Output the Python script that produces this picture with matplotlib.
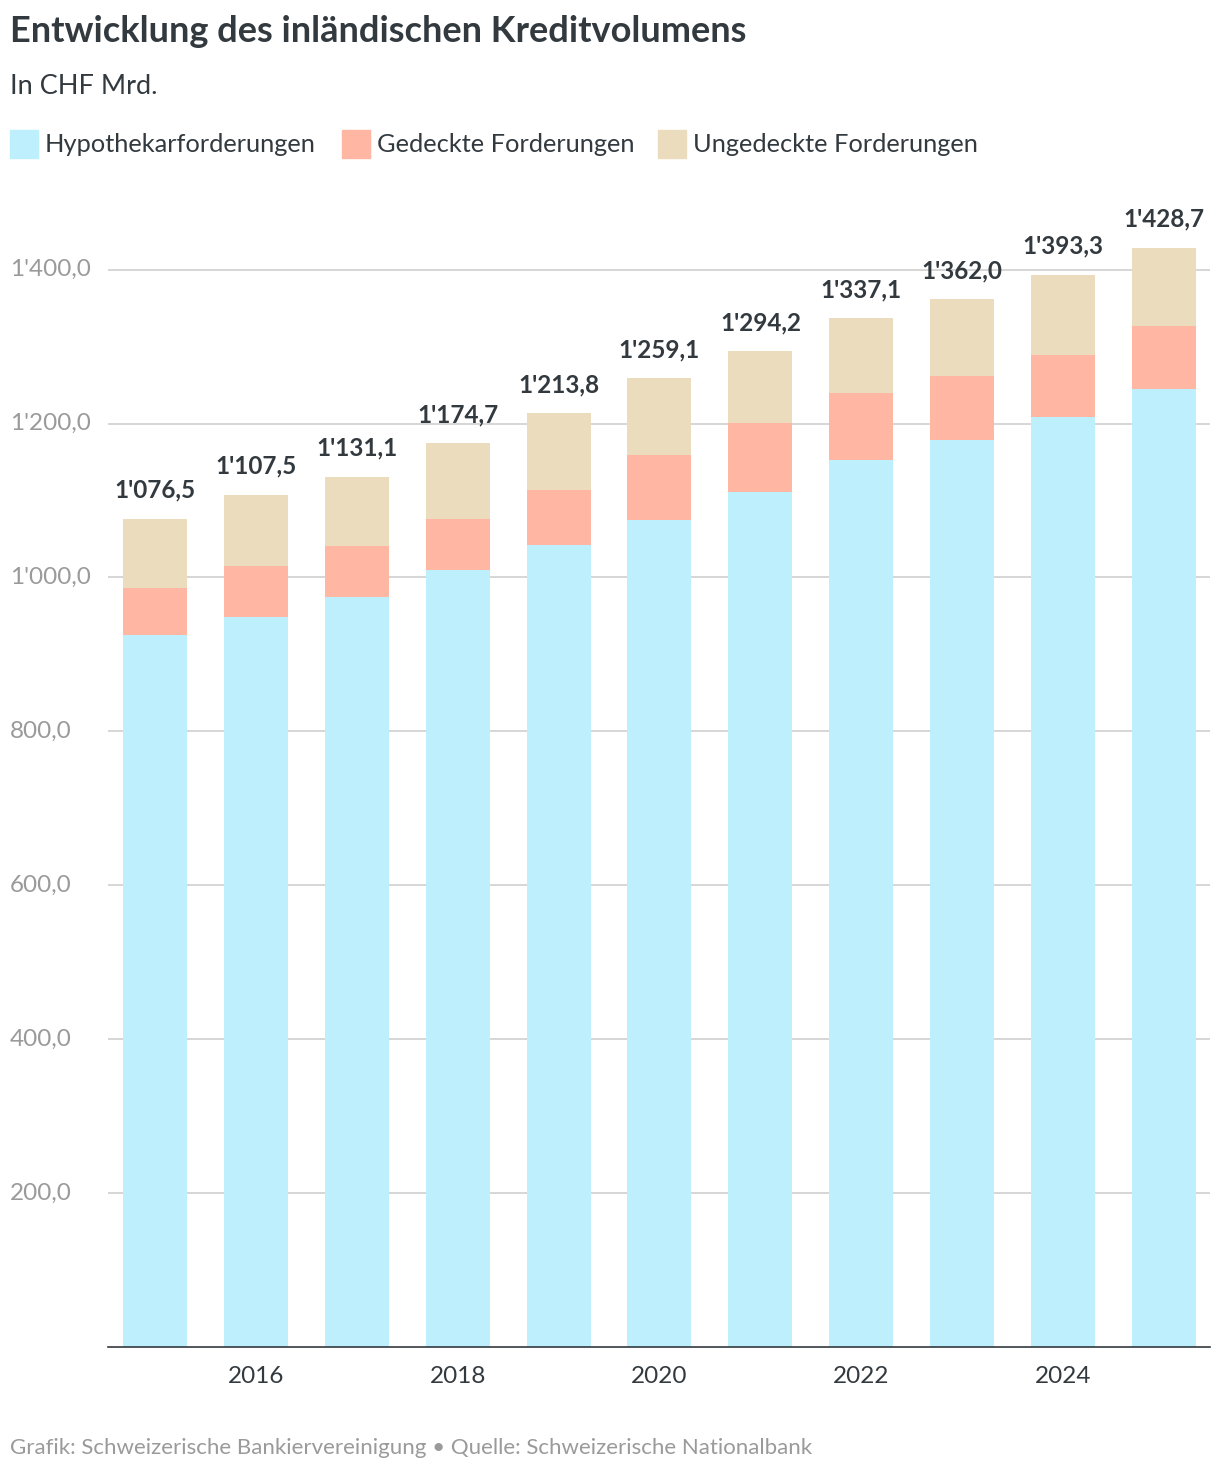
import numpy as np
import matplotlib.pyplot as plt
from matplotlib.transforms import blended_transform_factory
from matplotlib.patches import Rectangle

years = list(range(2015, 2026))
hypo = [925.5, 949.0, 975.0, 1010.0, 1042.5, 1075.0, 1111.0, 1153.0, 1179.0, 1209.0, 1245.0]
gedeckt = [61.1, 66.0, 66.0, 66.0, 71.5, 84.5, 90.0, 87.0, 83.0, 80.5, 82.0]
totals = [1076.5, 1107.5, 1131.1, 1174.7, 1213.8, 1259.1, 1294.2, 1337.1, 1362.0, 1393.3, 1428.7]
ungedeckt = [t - h - g for t, h, g in zip(totals, hypo, gedeckt)]
labels = ["Hypothekarforderungen", "Gedeckte Forderungen", "Ungedeckte Forderungen"]
colors = ["#bdeffc", "#ffb6a3", "#eadcbc"]
yticks = [200, 400, 600, 800, 1000, 1200, 1400]

plt.rcParams['font.family'] = ['Lato', 'DejaVu Sans']
dark = "#333a3f"
grey = "#9a9a9a"

fig = plt.figure(figsize=(12.2, 14.74), dpi=100)
ax = fig.add_axes([0.0885, 0.0862, 0.9033, 0.7815])

x = np.array(years)
w = 0.634
ax.bar(x, hypo, w, color=colors[0], zorder=2)
ax.bar(x, gedeckt, w, bottom=hypo, color=colors[1], zorder=2)
bot2 = [h + g for h, g in zip(hypo, gedeckt)]
ax.bar(x, ungedeckt, w, bottom=bot2, color=colors[2], zorder=2)

for xi, t in zip(x, totals):
    s = f"{t:,.1f}".replace(",", "'").replace(".", ",")
    ax.text(xi, t + 22, s, ha='center', va='bottom', fontsize=17.5, fontweight='bold', color=dark)

ax.set_xlim(2014.535, 2025.455)
ax.set_ylim(0, 1497)
ax.set_yticks(yticks)
ax.yaxis.grid(True, color="#d0d0d0", linewidth=1.2, zorder=0)
ax.tick_params(axis='y', length=0, labelleft=False)
trans = blended_transform_factory(fig.transFigure, ax.transData)
for v in yticks:
    s = f"{v:,.1f}".replace(",", "'").replace(".", ",")
    ax.text(10 / 1220, v, s, transform=trans, ha='left', va='center', fontsize=17.5, color=grey)

ax.set_xticks([2016, 2018, 2020, 2022, 2024])
ax.tick_params(axis='x', length=0, labelsize=17.5, labelcolor=dark, pad=14)
for sp in ['top', 'right', 'left']:
    ax.spines[sp].set_visible(False)
ax.spines['bottom'].set_color(dark)
ax.spines['bottom'].set_linewidth(1.2)

fig.text(10 / 1220, 1 - 32 / 1474, "Entwicklung des inländischen Kreditvolumens",
         fontsize=26, fontweight='bold', color=dark, va='center')
fig.text(10 / 1220, 1 - 87 / 1474, "In CHF Mrd.", fontsize=19.5, color=dark, va='center')

lx = [10, 342, 658]
for px, lab, c in zip(lx, labels, colors):
    fig.patches.append(Rectangle((px / 1220, 1 - 158 / 1474), 28 / 1220, 28 / 1474,
                                 transform=fig.transFigure, color=c))
    fig.text((px + 35) / 1220, 1 - 144 / 1474, lab, fontsize=18.3, color=dark, va='center')

fig.text(10 / 1220, 1 - 1448 / 1474,
         "Grafik: Schweizerische Bankiervereinigung \u2022 Quelle: Schweizerische Nationalbank",
         fontsize=16, color=grey, va='center')

fig.savefig("out.png", dpi=100)
